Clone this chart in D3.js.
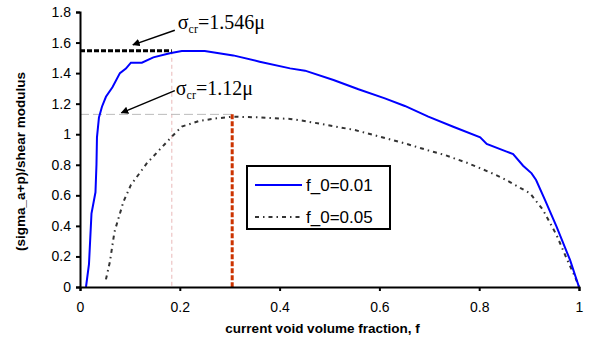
<!DOCTYPE html>
<html>
<head>
<meta charset="utf-8">
<script src="https://cdn.jsdelivr.net/npm/d3@7"></script>
<style>
  body { margin: 0; background: #fff; }
  .axis path, .axis line { stroke: #000; }
  .axis text { font-family: Arial, "Liberation Sans", sans-serif; font-size: 14px; fill: #000; }
  .axis-label { font-family: Arial, "Liberation Sans", sans-serif; font-size: 13.5px; font-weight: bold; }
  .note { font-family: "Times New Roman", "Liberation Serif", serif; }
</style>
</head>
<body>
<svg id="chart" width="592" height="343"></svg>
<script>
// f_0 = 0.01 curve
const f01X = [0.012, 0.018, 0.023, 0.031, 0.033, 0.034, 0.038, 0.044, 0.052, 0.065, 0.08, 0.092, 0.102, 0.124, 0.147, 0.18, 0.204, 0.25, 0.307, 0.36, 0.421, 0.451, 0.508, 0.558, 0.611, 0.651, 0.698, 0.748, 0.802, 0.815, 0.855, 0.868, 0.888, 0.905, 0.914, 0.932, 0.955, 0.982, 1.0];
const f01Y = [0, 0.15, 0.48, 0.62, 0.80, 0.98, 1.11, 1.18, 1.245, 1.307, 1.40, 1.43, 1.468, 1.468, 1.503, 1.53, 1.545, 1.545, 1.516, 1.475, 1.431, 1.416, 1.355, 1.294, 1.235, 1.185, 1.115, 1.049, 0.98, 0.936, 0.886, 0.87, 0.794, 0.744, 0.70, 0.569, 0.395, 0.177, 0];
// f_0 = 0.05 curve
const f05X = [0.052, 0.06, 0.069, 0.087, 0.102, 0.134, 0.184, 0.204, 0.24, 0.274, 0.307, 0.36, 0.421, 0.447, 0.484, 0.551, 0.601, 0.651, 0.695, 0.731, 0.778, 0.822, 0.848, 0.902, 0.928, 0.955, 0.975, 0.992, 1.0];
const f05Y = [0.05, 0.166, 0.36, 0.558, 0.668, 0.81, 0.984, 1.05, 1.088, 1.104, 1.115, 1.11, 1.10, 1.088, 1.067, 1.027, 0.984, 0.94, 0.897, 0.864, 0.81, 0.75, 0.711, 0.613, 0.504, 0.34, 0.188, 0.067, 0];

const xTicks = [0, 0.2, 0.4, 0.6, 0.8, 1];
const yTicks = [0, 0.2, 0.4, 0.6, 0.8, 1, 1.2, 1.4, 1.6, 1.8];

// critical stresses and where they occur
const peak1 = {f: 0.184, s: 1.546, label: "=1.546\u03bc"};
const peak2 = {f: 0.305, s: 1.13, label: "=1.12\u03bc"};

const svg = d3.select("#chart");
const margin = {top: 12, right: 13, bottom: 56, left: 80};
const width = 592 - margin.left - margin.right;
const height = 343 - margin.top - margin.bottom;
const g = svg.append("g").attr("transform", `translate(${margin.left},${margin.top})`);

const x = d3.scaleLinear().domain([0, 1]).range([0, width]);
const y = d3.scaleLinear().domain([0, 1.8]).range([height, 0]);

// reference lines
g.append("line")
    .attr("x1", x(peak1.f)).attr("x2", x(peak1.f))
    .attr("y1", y(peak1.s)).attr("y2", y(0))
    .attr("stroke", "#e9b8b8").attr("stroke-width", 1)
    .attr("stroke-dasharray", "4,3");
g.append("line")
    .attr("x1", x(0)).attr("x2", x(peak2.f))
    .attr("y1", y(peak2.s)).attr("y2", y(peak2.s))
    .attr("stroke", "#bbb").attr("stroke-width", 1)
    .attr("stroke-dasharray", "9,4");

// curves
const line = (xs, ys) => d3.line()
    .x((d, i) => x(xs[i]))
    .y((d, i) => y(ys[i]))(xs);

g.append("path")
    .attr("d", line(f05X, f05Y))
    .attr("fill", "none")
    .attr("stroke", "#333")
    .attr("stroke-width", 2)
    .attr("stroke-dasharray", "4,4,1.5,4");

g.append("path")
    .attr("d", line(f01X, f01Y))
    .attr("fill", "none")
    .attr("stroke", "#0000ff")
    .attr("stroke-width", 2);

g.append("line")
    .attr("x1", x(0)).attr("x2", x(peak1.f))
    .attr("y1", y(peak1.s)).attr("y2", y(peak1.s))
    .attr("stroke", "#000").attr("stroke-width", 3)
    .attr("stroke-dasharray", "5,2");
g.append("line")
    .attr("x1", x(peak2.f)).attr("x2", x(peak2.f))
    .attr("y1", y(peak2.s)).attr("y2", y(0))
    .attr("stroke", "#cc3300").attr("stroke-width", 3)
    .attr("stroke-dasharray", "5,2");

// axes
const xAxis = d3.axisBottom(x).tickValues(xTicks).tickSize(4).tickPadding(11).tickFormat(d3.format("~g"));
g.append("g").attr("class", "axis")
    .attr("transform", `translate(0,${height})`)
    .call(xAxis)
    .call(a => a.select(".domain").attr("stroke-width", 2))
    .call(a => a.selectAll(".tick line").attr("stroke-width", 2));

const yAxis = d3.axisLeft(y).tickValues(yTicks).tickSize(4).tickPadding(5).tickFormat(d3.format("~g"));
g.append("g").attr("class", "axis")
    .call(yAxis)
    .call(a => a.select(".domain").attr("stroke-width", 2))
    .call(a => a.selectAll(".tick line").attr("stroke-width", 2));

g.append("text")
    .attr("class", "axis-label")
    .attr("text-anchor", "middle")
    .attr("x", width / 2 - 7)
    .attr("y", height + 46)
    .text("current void volume fraction, f");

g.append("text")
    .attr("class", "axis-label")
    .attr("text-anchor", "middle")
    .attr("transform", `translate(-55,${height / 2 + 12}) rotate(-90)`)
    .text("(sigma_a+p)/shear modulus");

// annotations with arrows
svg.append("defs").append("marker")
    .attr("id", "arrow")
    .attr("viewBox", "0 0 10 10")
    .attr("refX", 9).attr("refY", 5)
    .attr("markerWidth", 5).attr("markerHeight", 5)
    .attr("orient", "auto")
    .append("path").attr("d", "M0,0 L10,5 L0,10 z").attr("fill", "#000");

const notes = [
    {p: peak1, tx: 0.196, ty: 1.69, ax: 0.19, ay: 1.68, bx: 0.106, by: 1.585},
    {p: peak2, tx: 0.192, ty: 1.26, ax: 0.19, ay: 1.285, bx: 0.083, by: 1.14}
];
notes.forEach(n => {
    g.append("line")
        .attr("x1", x(n.ax)).attr("y1", y(n.ay))
        .attr("x2", x(n.bx)).attr("y2", y(n.by))
        .attr("stroke", "#000").attr("stroke-width", 1.5)
        .attr("marker-end", "url(#arrow)");
    const t = g.append("text").attr("class", "note")
        .attr("x", x(n.tx)).attr("y", y(n.ty))
        .attr("font-size", 20);
    t.append("tspan").text("\u03c3");
    t.append("tspan").attr("font-size", 12).attr("dy", 4).text("cr");
    t.append("tspan").attr("dy", -4).text(n.p.label);
});

// legend
const legend = svg.append("g").attr("transform", "translate(247,166)");
legend.append("rect")
    .attr("width", 143).attr("height", 63)
    .attr("fill", "#fff").attr("stroke", "#000").attr("stroke-width", 2);
const series = [
    {name: "f_0=0.01", color: "#0000ff", dash: null},
    {name: "f_0=0.05", color: "#333", dash: "4,4,1.5,4"}
];
series.forEach((s, i) => {
    const yy = 19 + i * 32;
    legend.append("line")
        .attr("x1", 8).attr("x2", 55)
        .attr("y1", yy).attr("y2", yy)
        .attr("stroke", s.color).attr("stroke-width", 2)
        .attr("stroke-dasharray", s.dash);
    legend.append("text")
        .attr("x", 59).attr("y", yy + 6)
        .attr("font-family", "Arial, 'Liberation Sans', sans-serif")
        .attr("font-size", 17)
        .text(s.name);
});
</script>
</body>
</html>
